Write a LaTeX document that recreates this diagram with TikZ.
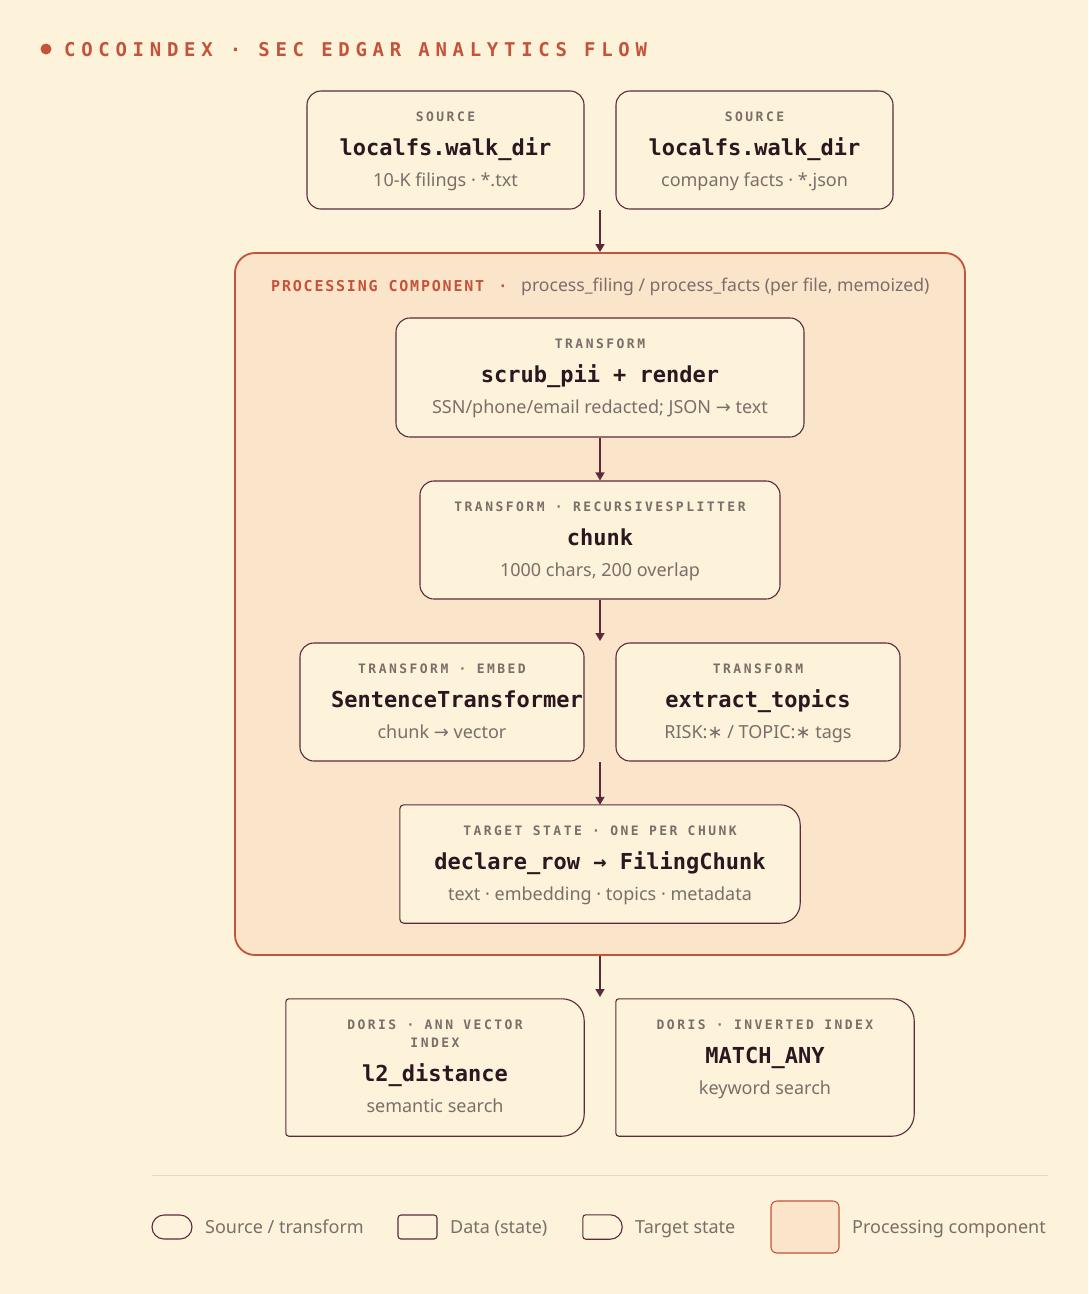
\documentclass[tikz,border=0pt]{standalone}
\usepackage{fontspec}
\usetikzlibrary{arrows.meta}
\setmainfont{Noto Sans}
\newfontfamily\symfont{DejaVu Sans}
\newfontfamily\ttlfont{DejaVu Sans Mono Bold}
\newfontfamily\headfont{DejaVu Sans Mono Bold}[LetterSpace=30]
\newfontfamily\compfont{DejaVu Sans Mono Bold}[LetterSpace=12]
\newfontfamily\lblfont{DejaVu Sans Mono Bold}[LetterSpace=19]
\definecolor{bg}{HTML}{FDF2DA}
\definecolor{procfill}{HTML}{FAE5CA}
\definecolor{rust}{HTML}{C4533A}
\definecolor{ink}{HTML}{2A1720}
\definecolor{edge}{HTML}{5C2A3C}
\definecolor{muted}{HTML}{7D6D69}
\definecolor{sepline}{HTML}{E8D8C2}
\tikzset{
  card/.style={draw=edge, line width=1.1pt, fill=bg, rounded corners=14pt, inner sep=0pt},
  tgtbox/.style={draw=none, fill=none, inner sep=0pt},
  lbl/.style={font={\lblfont\fontsize{13}{15}\selectfont}, text=muted, anchor=base, inner sep=0pt},
  ttl/.style={font={\ttlfont\fontsize{22}{26}\selectfont}, text=ink, anchor=base, inner sep=0pt},
  subt/.style={font={\fontsize{18}{21}\selectfont}, text=muted, anchor=base, inner sep=0pt},
  legtxt/.style={font={\fontsize{18}{21}\selectfont}, text=muted, anchor=base west, inner sep=0pt},
  arr/.style={draw=edge, line width=1.4pt, -{Triangle[length=8pt,width=9pt]}},
}
% outline with small left radius #2 and large right radius #3
\newcommand\tgtoutline[3]{%
  \filldraw[fill=bg, draw=edge, line width=1.1pt]
    ([xshift=#2pt]#1.north west) -- ([xshift=-#3pt]#1.north east)
    arc[start angle=90, end angle=0, radius=#3pt]
    -- ([yshift=#3pt]#1.south east)
    arc[start angle=0, end angle=-90, radius=#3pt]
    -- ([xshift=#2pt]#1.south west)
    arc[start angle=270, end angle=180, radius=#2pt]
    -- ([yshift=-#2pt]#1.north west)
    arc[start angle=180, end angle=90, radius=#2pt] -- cycle;}
% texts of a card: name, cx, top, label, title, sub
\newcommand\cardtext[6]{%
  \node[lbl] (#1-l) at (#2,{-(#3+30)}) {#4};
  \node[ttl] (#1-t) at (#2,{-(#3+64)}) {#5};
  \node[subt] (#1-s) at (#2,{-(#3+95)}) {#6};}
\begin{document}
\begin{tikzpicture}[x=1pt,y=1pt]
\useasboundingbox (0,0) rectangle (1088,-1294);
\fill[bg] (0,0) rectangle (1088,-1294);

% title
\node[circle, fill=rust, minimum size=11pt, inner sep=0pt] (dot) at (46,-49) {};
\node[font={\headfont\fontsize{19}{22}\selectfont}, text=rust, anchor=base west, inner sep=0pt] (title) at (64,-56) {COCOINDEX · SEC EDGAR ANALYTICS FLOW};

% sources
\node[card, minimum width=277pt, minimum height=118pt] (src1) at (445.5,-150) {};
\node[card, minimum width=277pt, minimum height=118pt] (src2) at (754.5,-150) {};
\cardtext{src1}{445.5}{91}{SOURCE}{localfs.walk\_dir}{10-K filings · *.txt}
\cardtext{src2}{754.5}{91}{SOURCE}{localfs.walk\_dir}{company facts · *.json}

% processing component
\node[draw=rust, line width=1.8pt, fill=procfill, rounded corners=20pt, minimum width=730pt, minimum height=702pt, inner sep=0pt] (proc) at (600,-604) {};
\node[font={\compfont\fontsize{15}{18}\selectfont}, text=rust, anchor=base west, inner sep=0pt] (prochead) at (271,-291) {PROCESSING COMPONENT};
\node[font={\compfont\fontsize{15}{18}\selectfont}, text=rust, anchor=base, inner sep=0pt] (procdot) at (503,-291) {·};
\node[font={\fontsize{17.6}{20}\selectfont}, text=muted, anchor=base west, inner sep=0pt] (procsub) at (521,-291) {process\_filing / process\_facts (per file, memoized)};

% transforms
\node[card, minimum width=408pt, minimum height=119pt] (scrub) at (600,-377.5) {};
\cardtext{scrub}{600}{318}{TRANSFORM}{scrub\_pii + render}{SSN/phone/email redacted; JSON {\symfont →} text}

\node[card, minimum width=360pt, minimum height=118pt] (chunk) at (600,-540) {};
\cardtext{chunk}{600}{481}{TRANSFORM · RECURSIVESPLITTER}{chunk}{1000 chars, 200 overlap}

\node[card, minimum width=284pt, minimum height=118pt] (embed) at (442,-702) {};
\node[lbl] (embed-l) at (442,-673) {TRANSFORM · EMBED};
\node[ttl, anchor=base west] (embed-t) at (331,-707) {SentenceTransformer};
\node[subt] (embed-s) at (442,-738) {chunk {\symfont →} vector};

\node[card, minimum width=284pt, minimum height=118pt] (topics) at (758,-702) {};
\cardtext{topics}{758}{643}{TRANSFORM}{extract\_topics}{RISK:{\symfont ∗} / TOPIC:{\symfont ∗} tags}

% target state
\node[tgtbox, minimum width=400pt, minimum height=118pt] (decl) at (600,-864) {};
\tgtoutline{decl}{4}{20}
\cardtext{decl}{600}{805}{TARGET STATE · ONE PER CHUNK}{declare\_row → FilingChunk}{text · embedding · topics · metadata}

% doris
\node[tgtbox, minimum width=298pt, minimum height=137pt] (doris1) at (435,-1067.5) {};
\tgtoutline{doris1}{3}{22}
\node[lbl] (doris1-l) at (435,-1029) {DORIS · ANN VECTOR};
\node[lbl] (doris1-l2) at (435,-1047) {INDEX};
\node[ttl] (doris1-t) at (435,-1081) {l2\_distance};
\node[subt] (doris1-s) at (435,-1112) {semantic search};

\node[tgtbox, minimum width=298pt, minimum height=137pt] (doris2) at (765,-1067.5) {};
\tgtoutline{doris2}{3}{22}
\cardtext{doris2}{765}{999}{DORIS · INVERTED INDEX}{MATCH\_ANY}{keyword search}

% connectors
\coordinate (srcout) at (600,-210);
\coordinate (fanout) at (600,-641);
\coordinate (fanin) at (600,-762);
\coordinate (sinkin) at (600,-997);
\draw[arr] (srcout) -- (proc.north);
\draw[arr] (scrub.south) -- (chunk.north);
\draw[arr] (chunk.south) -- (fanout);
\draw[arr] (fanin) -- (decl.north);
\draw[arr] (proc.south) -- (sinkin);

% separator
\coordinate (sepL) at (152,-1175);
\coordinate (sepR) at (1048,-1175);
\draw[sepline, line width=1pt] (sepL) -- (sepR);

% legend
\node[card, rounded corners=12pt, minimum width=40pt, minimum height=24pt] (leg1) at (172,-1227) {};
\node[legtxt] (leg1-t) at (205,-1233) {Source / transform};
\node[card, rounded corners=3pt, minimum width=39pt, minimum height=24pt] (leg2) at (417.5,-1227) {};
\node[legtxt] (leg2-t) at (450,-1233) {Data (state)};
\node[tgtbox, minimum width=39pt, minimum height=24pt] (leg3) at (602.5,-1227) {};
\tgtoutline{leg3}{3}{12}
\node[legtxt] (leg3-t) at (635,-1233) {Target state};
\node[draw=rust, line width=1.1pt, fill=procfill, rounded corners=6pt, minimum width=68pt, minimum height=52pt, inner sep=0pt] (leg4) at (805,-1227) {};
\node[legtxt] (leg4-t) at (852,-1233) {Processing component};
\end{tikzpicture}
\end{document}
